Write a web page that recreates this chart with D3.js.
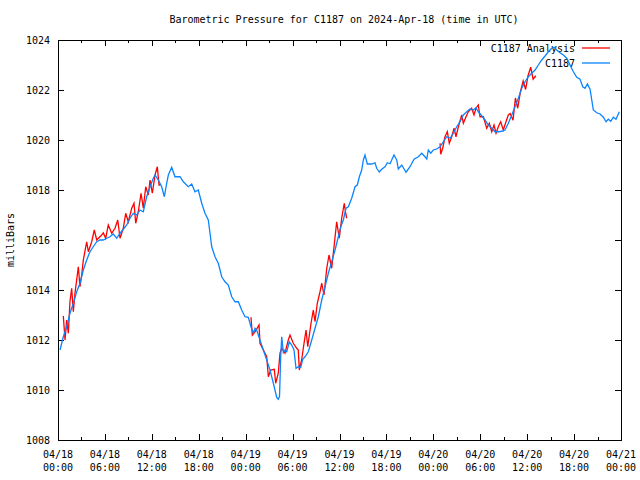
<!DOCTYPE html>
<html><head><meta charset="utf-8">
<script src="https://cdn.jsdelivr.net/npm/d3@7"></script>
<style>
body{margin:0;background:#fff;}
text{font-family:"DejaVu Sans Mono","Liberation Mono",monospace;font-size:10px;fill:#000;}
</style></head>
<body><svg id="c" width="640" height="480"></svg>
<script>
// ---- data (hours after 2024-04-18 00:00 UTC, pressure in mb) ----
const titleText = "Barometric Pressure for C1187 on 2024-Apr-18 (time in UTC)";
const yLabel = "milliBars";
const seriesNames = ["C1187 Analysis", "C1187"];
const yTicks = [1008,1010,1012,1014,1016,1018,1020,1022,1024];
const xTickHours = [0,6,12,18,24,30,36,42,48,54,60,66,72];
const xTickDates = ["04/18","04/18","04/18","04/18","04/19","04/19","04/19","04/19","04/20","04/20","04/20","04/20","04/21"];
const xTickTimes = ["00:00","06:00","12:00","18:00","00:00","06:00","12:00","18:00","00:00","06:00","12:00","18:00","00:00"];

const stationHours = [0.26,0.68,1.11,1.53,1.96,2.39,2.81,3.24,3.67,4.09,4.51,4.95,5.37,5.79,6.23,6.65,7.07,7.51,7.93,8.35,8.79,9.21,9.63,10.07,10.49,10.91,11.34,11.77,12.19,12.41,12.83,13.26,13.6,13.9,14.11,14.54,14.96,15.6,16.03,16.66,17.1,17.52,17.94,18.38,18.8,19.22,19.44,19.66,20.08,20.5,20.94,21.36,21.78,22.22,22.64,23.06,23.49,23.92,24.34,24.68,24.98,25.2,25.41,25.83,26.26,26.69,27.11,27.54,27.97,28.17,28.33,28.48,28.61,28.82,29.03,29.25,29.58,29.89,30.18,30.44,30.73,31.04,31.3,31.59,32.01,32.45,32.87,33.29,33.73,34.15,34.57,35.0,35.43,35.85,36.16,36.49,36.83,37.13,37.56,37.99,38.28,38.54,38.84,39.05,39.26,39.56,40.12,40.54,40.76,41.09,41.4,41.82,42.12,42.46,42.97,43.32,43.52,43.96,44.51,45.02,45.53,46.08,46.52,46.85,47.16,47.36,47.67,48.0,48.43,48.86,49.28,49.71,50.14,50.56,50.99,51.41,51.84,52.27,52.69,53.11,53.46,53.75,54.19,54.61,55.03,55.47,55.89,56.31,56.75,57.17,57.59,58.03,58.45,58.87,59.31,59.73,60.15,60.58,61.01,61.43,61.86,62.29,62.71,63.14,63.44,63.78,64.2,64.63,65.06,65.48,65.91,66.34,66.76,67.11,67.4,67.7,68.04,68.26,68.46,68.9,69.32,69.74,70.09,70.38,70.69,71.02,71.36,71.79];
const stationValues = [1011.6,1012.13,1012.53,1013.07,1013.47,1013.93,1014.27,1014.8,1015.2,1015.53,1015.73,1015.93,1016.0,1016.0,1016.07,1016.13,1016.24,1016.07,1016.27,1016.43,1016.6,1016.87,1017.07,1017.0,1017.2,1017.13,1017.73,1018.13,1018.47,1018.6,1018.4,1018.13,1017.73,1018.27,1018.6,1018.91,1018.53,1018.53,1018.33,1018.13,1018.24,1017.93,1018.0,1017.47,1017.07,1016.8,1016.27,1015.73,1015.33,1015.07,1014.53,1014.33,1014.2,1013.73,1013.53,1013.53,1013.2,1012.93,1012.91,1012.53,1012.27,1012.47,1012.4,1012.0,1011.6,1011.2,1010.8,1010.27,1009.7,1009.63,1009.75,1011.33,1012.13,1011.5,1011.6,1011.53,1011.93,1011.8,1011.6,1010.87,1010.93,1010.91,1011.23,1011.33,1011.53,1012.0,1012.47,1012.93,1013.6,1014.13,1014.67,1015.13,1015.6,1016.13,1016.53,1016.8,1017.27,1017.33,1017.67,1018.13,1018.2,1018.53,1018.8,1019.2,1019.4,1019.04,1019.04,1019.09,1018.87,1018.72,1018.83,1018.93,1019.09,1019.05,1019.4,1019.2,1018.84,1019.0,1018.71,1018.93,1019.23,1019.33,1019.47,1019.36,1019.24,1019.6,1019.47,1019.6,1019.64,1019.73,1019.93,1020.13,1020.07,1020.27,1020.53,1020.73,1021.0,1021.13,1021.24,1021.2,1021.29,1021.13,1020.97,1020.8,1020.6,1020.47,1020.33,1020.33,1020.35,1020.4,1020.67,1021.0,1021.33,1021.67,1022.07,1022.33,1022.53,1022.67,1022.8,1023.0,1023.2,1023.36,1023.53,1023.67,1023.71,1023.6,1023.49,1023.4,1023.27,1023.0,1022.73,1022.51,1022.43,1022.13,1022.07,1022.24,1022.03,1021.6,1021.2,1021.09,1021.04,1020.91,1020.73,1020.83,1020.75,1020.91,1020.83,1021.13];

const analysisHours1 = [0.68,0.9,1.11,1.32,1.53,1.75,1.96,2.17,2.6,2.81,3.03,3.24,3.67,3.88,4.31,4.64,4.95,5.59,5.79,6.1,6.43,6.87,7.29,7.64,7.93,8.35,8.66,8.99,9.43,9.72,9.94,10.27,10.62,10.91,11.22,11.55,11.77,12.06,12.41,12.7,12.92,13.08];
const analysisValues1 = [1012.96,1012.0,1012.8,1012.27,1013.53,1014.07,1013.13,1013.87,1014.93,1014.13,1014.6,1015.2,1015.93,1015.53,1015.93,1016.4,1016.0,1016.2,1016.29,1016.07,1016.6,1016.27,1016.47,1016.8,1016.07,1016.47,1017.07,1016.73,1017.27,1017.47,1016.67,1017.13,1017.87,1017.27,1018.13,1017.8,1018.4,1017.87,1018.6,1018.93,1018.2,1018.2];
const analysisHours2 = [24.68,24.85,25.2,25.71,25.83,26.69,26.9,27.2,27.66,27.84,28.17,28.39,28.61,29.03,29.45,29.67,30.09,30.53,30.73,30.86,31.16,31.37,31.72,31.94,32.36,32.65,32.87,33.16,33.51,33.73,34.02,34.37,34.66,35.0,35.3,35.64,35.97,36.28,36.61,36.79,36.92];
const analysisValues2 = [1012.91,1012.2,1012.33,1012.6,1011.87,1011.33,1010.53,1010.8,1010.83,1010.27,1010.67,1011.47,1011.67,1011.47,1012.0,1012.2,1011.87,1011.67,1011.6,1010.8,1011.2,1011.67,1012.4,1011.73,1012.67,1013.2,1012.73,1013.47,1013.93,1014.27,1013.8,1014.87,1015.4,1014.87,1015.73,1016.73,1016.07,1016.87,1017.47,1017.07,1016.87];
const analysisHours3 = [48.86,48.94,49.2,49.49,49.79,50.04,50.35,50.65,50.9,51.2,51.63,51.84,52.18,52.47,52.9,53.2,53.46,53.75,53.97,54.39,54.83,55.16,55.47,55.76,56.02,56.31,56.61,56.95,57.29,57.59,57.83,58.19,58.5,58.79,59.15,59.49,59.8,60.11,60.45,60.76,61.11];
const analysisValues3 = [1019.87,1019.43,1019.67,1020.13,1020.33,1019.87,1020.13,1020.47,1020.13,1020.53,1021.0,1020.67,1020.93,1021.13,1021.27,1021.0,1021.27,1021.4,1020.93,1020.93,1020.47,1020.67,1020.33,1020.6,1020.27,1020.53,1020.73,1020.4,1020.73,1021.0,1021.06,1020.79,1021.68,1021.27,1021.95,1022.36,1022.02,1022.57,1022.91,1022.43,1022.57];

// ---- chart ----
const start = Date.UTC(2024,3,18,0,0);
const toDate = h => new Date(start + h*3600000);
const L=58, R=621, T=40, B=440;
const svg = d3.select("#c");
const x = d3.scaleUtc().domain([toDate(0), toDate(72)]).range([L,R]);
const y = d3.scaleLinear().domain([1008,1024]).range([B,T]);

const zip = (hs, vs) => hs.map((h,i)=>({t:toDate(h), v:vs[i]}));
const line = d3.line().x(d=>x(d.t)).y(d=>y(d.v));

const red = "#ff0000", blue = "#0a84ff";

// title
svg.append("text").attr("x",344).attr("y",23).attr("text-anchor","middle").text(titleText);
// y label
svg.append("text").attr("transform","translate(14,240) rotate(-90)").attr("text-anchor","middle").text(yLabel);

// axes ticks (inward, all four sides)
const ax = svg.append("g").attr("shape-rendering","crispEdges").attr("stroke","#000");
const minorHours = d3.range(0,73,3);
minorHours.forEach(h=>{
  const major = h%6===0;
  const len = major?6:3;
  const xx = Math.round(x(toDate(h)))+0.5;
  ax.append("line").attr("x1",xx).attr("x2",xx).attr("y1",B).attr("y2",B-len);
  ax.append("line").attr("x1",xx).attr("x2",xx).attr("y1",T).attr("y2",T+len);
});
yTicks.forEach(v=>{
  const yy = Math.round(y(v))+0.5;
  ax.append("line").attr("x1",L).attr("x2",L+6).attr("y1",yy).attr("y2",yy);
  ax.append("line").attr("x1",R).attr("x2",R-6).attr("y1",yy).attr("y2",yy);
});
// y tick labels via axis generator
const yAxis = d3.axisLeft(y).tickValues(yTicks).tickSize(0).tickPadding(0).tickFormat(d3.format("d"));
const gy = svg.append("g").attr("transform",`translate(${L-8},0)`).call(yAxis);
gy.select(".domain").remove();
gy.selectAll("text").attr("font-family","DejaVu Sans Mono").attr("font-size",10).attr("fill","#000");

// x tick labels
const gx = svg.append("g");
xTickHours.forEach((h,i)=>{
  const xx = x(toDate(h));
  gx.append("text").attr("x",xx).attr("y",458).attr("text-anchor","middle").text(xTickDates[i]);
  gx.append("text").attr("x",xx).attr("y",471).attr("text-anchor","middle").text(xTickTimes[i]);
});

// lines
const plot = svg.append("g");
[[analysisHours1,analysisValues1],[analysisHours2,analysisValues2],[analysisHours3,analysisValues3]].forEach(([hs,vs])=>{
  plot.append("path").attr("d",line(zip(hs,vs))).attr("fill","none").attr("stroke",red).attr("stroke-width",1.3);
});

// legend (drawn before the station line so the line passes over the text, as in the reference)
const lg = svg.append("g");
[[seriesNames[0],red,48],[seriesNames[1],blue,63]].forEach(([n,c,yy])=>{
  lg.append("text").attr("x",575).attr("y",yy+3.5).attr("text-anchor","end").text(n);
  lg.append("line").attr("x1",582).attr("x2",610).attr("y1",yy).attr("y2",yy).attr("stroke",c).attr("stroke-width",1.3);
});

plot.raise();
svg.append("path").attr("d",line(zip(stationHours,stationValues))).attr("fill","none").attr("stroke",blue).attr("stroke-width",1.3);

// border
svg.append("rect").attr("x",L+0.5).attr("y",T+0.5).attr("width",R-L).attr("height",B-T)
  .attr("fill","none").attr("stroke","#000").attr("shape-rendering","crispEdges");
</script></body></html>
